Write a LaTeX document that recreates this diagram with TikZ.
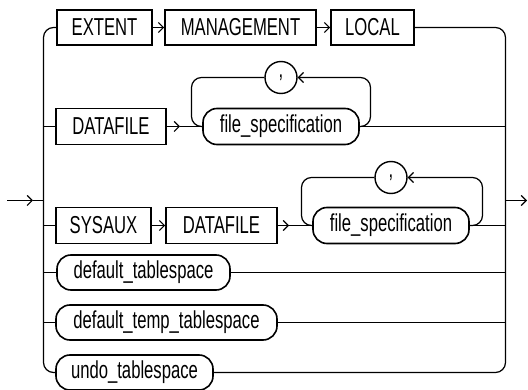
\documentclass[tikz,border=0pt]{standalone}
\usepackage{fontspec}
\setmainfont[FakeStretch=0.68]{Liberation Sans}
\usetikzlibrary{arrows.meta}
\begin{document}
\begin{tikzpicture}[x=1pt,y=-1pt,
  font=\fontsize{24.5}{28}\selectfont,
  kw/.style={draw,line width=1.6pt,rectangle,minimum height=35,inner sep=0pt},
  nt/.style={draw,line width=1.6pt,rectangle,rounded corners=14,minimum height=35,inner sep=0pt},
  sep/.style={draw,line width=1.4pt,circle,minimum size=32,inner sep=0pt},
  conn/.style={line width=1.2pt},
  arr/.style={conn,-{Straight Barb[length=5pt,width=10pt,line width=1.2pt]}},
  lp/.style={conn,rounded corners=10}]
\useasboundingbox (0,0) rectangle (528,390);
% row 1
\node[kw,minimum width=95] (ext) at (104.5,27.5) {EXTENT};
\node[kw,minimum width=151] (mgmt) at (240.5,27.5) {MANAGEMENT};
\node[kw,minimum width=83] (local) at (372.5,27.5) {LOCAL};
% row 2
\node[kw,minimum width=110,minimum height=36] (dfa) at (111,126.5) {DATAFILE};
\node[nt,minimum width=156,minimum height=36] (fsa) at (281,126.5) {file\_specification};
\node[sep] (ca) at (281,77.5) {,};
% row 3
\node[kw,minimum width=95,minimum height=36] (sys) at (103.5,225.5) {SYSAUX};
\node[kw,minimum width=111,minimum height=36] (dfb) at (221.5,225.5) {DATAFILE};
\node[nt,minimum width=156,minimum height=36] (fsb) at (391,225.5) {file\_specification};
\node[sep] (cb) at (391,177.5) {,};
% rows 4-6
\node[nt,minimum width=173] (dts) at (143.5,272.5) {default\_tablespace};
\node[nt,minimum width=221] (dtts) at (166.5,322.5) {default\_temp\_tablespace};
\node[nt,minimum width=157] (undo) at (134.5,372.5) {undo\_tablespace};
% helper coordinates
\coordinate (in) at (7,200.5);
\coordinate (inm) at (33,200.5);
\coordinate (inj) at (43.5,200.5);
\coordinate (outj) at (505.5,200.5);
\coordinate (out) at (527,200.5);
\coordinate (ama) at (180,126.5);
\coordinate (amb) at (289,225.5);
% entry / exit
\draw[arr] (in) -- (inm);
\draw[conn] (inm) -- (inj);
\draw[arr] (outj) -- (out);
% left and right rails
\draw[lp] (ext.west) -- (43.5,27.5) -- (43.5,372.5) -- (undo.west);
\draw[lp] (local.east) -- (505.5,27.5) -- (505.5,372.5) -- (undo.east);
% row 1 arrows
\draw[arr] (ext.east) -- (mgmt.west);
\draw[arr] (mgmt.east) -- (local.west);
% row 2
\draw[conn] (43.5,126.5) -- (dfa.west);
\draw[arr] (dfa.east) -- (ama);
\draw[conn] (ama) -- (fsa.west);
\draw[conn] (fsa.east) -- (505.5,126.5);
\draw[lp,arr] (fsa.east) -- (370.5,126.5) -- (370.5,77.5) -- (ca.east);
\draw[lp] (ca.west) -- (191.5,77.5) -- (191.5,126.5) -- (fsa.west);
% row 3
\draw[conn] (43.5,225.5) -- (sys.west);
\draw[arr] (sys.east) -- (dfb.west);
\draw[arr] (dfb.east) -- (amb);
\draw[conn] (amb) -- (fsb.west);
\draw[conn] (fsb.east) -- (505.5,225.5);
\draw[lp,arr] (fsb.east) -- (482.5,225.5) -- (482.5,177.5) -- (cb.east);
\draw[lp] (cb.west) -- (301.5,177.5) -- (301.5,225.5) -- (fsb.west);
% rows 4-5
\draw[conn] (43.5,272.5) -- (dts.west);
\draw[conn] (dts.east) -- (505.5,272.5);
\draw[conn] (43.5,322.5) -- (dtts.west);
\draw[conn] (dtts.east) -- (505.5,322.5);
\end{tikzpicture}
\end{document}
